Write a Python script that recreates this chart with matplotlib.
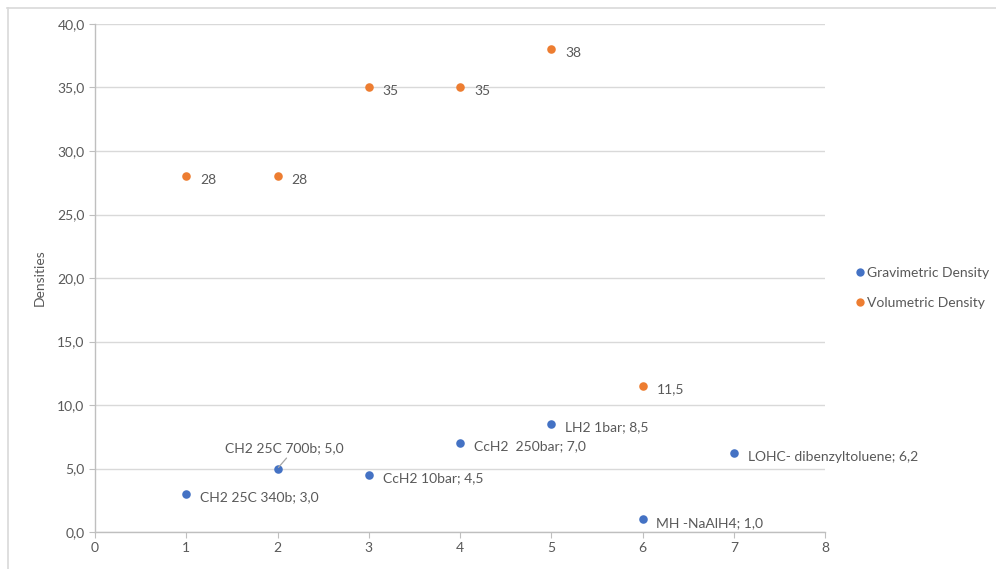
import matplotlib.pyplot as plt
from matplotlib.lines import Line2D
from matplotlib.ticker import FuncFormatter

plt.rcParams['font.family'] = ['Lato', 'DejaVu Sans']

# data
x_vals = [1, 2, 3, 4, 5, 6, 7]
grav = [3.0, 5.0, 4.5, 7.0, 8.5, 1.0, 6.2]
grav_names = ["CH2 25C 340b", "CH2 25C 700b", "CcH2 10bar", "CcH2  250bar",
              "LH2 1bar", "MH -NaAlH4", "LOHC- dibenzyltoluene"]
vol_x = [1, 2, 3, 4, 5, 6]
vol = [28, 28, 35, 35, 38, 11.5]
vol_labels = ["28", "28", "35", "35", "38", "11,5"]

blue = "#4472C4"
orange = "#ED7D31"
txt = "#595959"

W, H = 996, 569
fig = plt.figure(figsize=(W / 100, H / 100), dpi=100)
ax = fig.add_axes([95 / W, 1 - 532 / H, 730 / W, 508 / H])

ax.scatter(x_vals, grav, s=38, color=blue, zorder=3, linewidths=0)
ax.scatter(vol_x, vol, s=38, color=orange, zorder=3, linewidths=0)

fs = 10
for xv, yv, name in zip(x_vals, grav, grav_names):
    lab = f"{name}; {yv:.1f}".replace(".", ",")
    if xv == 2:
        ax.annotate(lab, (xv, yv), xytext=(5, 14.5), textcoords="offset points",
                    ha="center", va="center", fontsize=fs, color=txt)
        # leader line from label to point
        ax.annotate("", (xv, yv), xytext=(6.5, 7.5), textcoords="offset points",
                    arrowprops=dict(arrowstyle="-", color="#A6A6A6", lw=0.9,
                                    shrinkA=0, shrinkB=1))
    else:
        ax.annotate(lab, (xv, yv), xytext=(10, -2.5), textcoords="offset points",
                    ha="left", va="center", fontsize=fs, color=txt)
for xv, yv, lab in zip(vol_x, vol, vol_labels):
    ax.annotate(lab, (xv, yv), xytext=(10, -2.5), textcoords="offset points",
                ha="left", va="center", fontsize=fs, color=txt)

ax.set_xlim(0, 8)
ax.set_ylim(0, 40)
ax.set_xticks(range(0, 9))
ax.set_yticks(range(0, 41, 5))
ax.yaxis.set_major_formatter(FuncFormatter(lambda v, p: f"{v:.1f}".replace(".", ",")))
ax.grid(axis="y", color="#D9D9D9", lw=1)
ax.set_axisbelow(True)
for s in ["top", "right"]:
    ax.spines[s].set_visible(False)
for s in ["left", "bottom"]:
    ax.spines[s].set_color("#BFBFBF")
    ax.spines[s].set_linewidth(1)
ax.tick_params(colors="#BFBFBF", labelcolor=txt, labelsize=fs, length=4, direction="out")
ax.set_ylabel("Densities", color=txt, fontsize=fs, labelpad=8)

handles = [Line2D([], [], marker="o", ls="", color=blue, markersize=6, markeredgewidth=0),
           Line2D([], [], marker="o", ls="", color=orange, markersize=6, markeredgewidth=0)]
fig.legend(handles, ["Gravimetric Density", "Volumetric Density"], loc="center left",
           bbox_to_anchor=(853 / W, 1 - 288 / H), frameon=False, fontsize=fs,
           labelcolor=txt, handletextpad=0.0, handlelength=1.0, labelspacing=1.3,
           borderpad=0, borderaxespad=0)

# chart area border (top and left visible)
fig.add_artist(Line2D([7 / W, 1], [1 - 7.5 / H, 1 - 7.5 / H], color="#D9D9D9", lw=1.2))
fig.add_artist(Line2D([7.5 / W, 7.5 / W], [0, 1 - 7.5 / H], color="#D9D9D9", lw=1.2))

fig.savefig("out.png", dpi=100)
